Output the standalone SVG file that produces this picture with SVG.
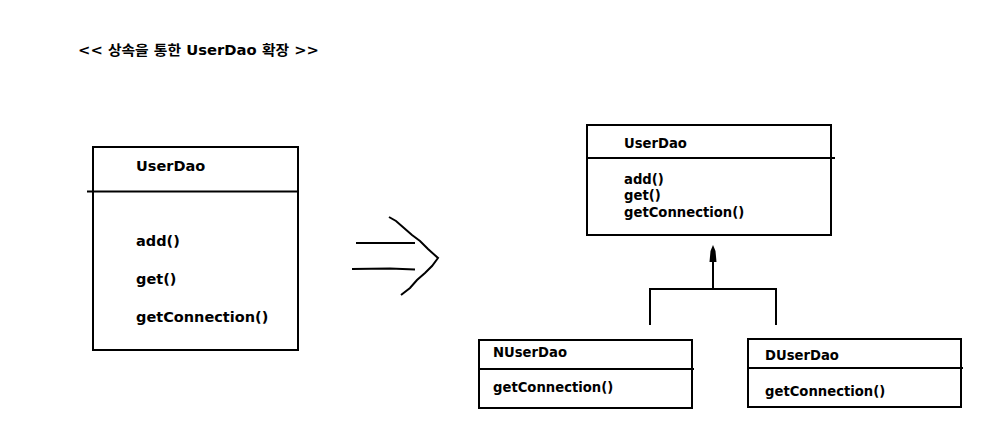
<svg xmlns="http://www.w3.org/2000/svg" width="990" height="429" viewBox="0 0 990 429">
<style>
.box{fill:#fff;stroke:#000;stroke-width:2}
.ln{fill:none;stroke:#000;stroke-width:2}
.t{font-family:"DejaVu Sans","Noto Sans CJK KR",sans-serif;font-weight:bold;fill:#000}
.big{font-size:14.5px}
.sm{font-size:13.2px}
</style>
<rect width="990" height="429" fill="#fff"/>
<text class="t" x="78" y="55" font-size="13.5" textLength="241" lengthAdjust="spacingAndGlyphs">&lt;&lt; 상속을 통한 UserDao 확장 &gt;&gt;</text>

<g id="userdao-left">
<rect class="box" x="93" y="147" width="205" height="203"/>
<line class="ln" x1="87" y1="191.5" x2="298" y2="191.5"/>
<text class="t big" x="136" y="171">UserDao</text>
<text class="t big" x="136" y="246">add()</text>
<text class="t big" x="136" y="284">get()</text>
<text class="t big" x="136" y="322">getConnection()</text>
</g>

<g id="transform-arrow">
<line class="ln" x1="356" y1="243" x2="415" y2="243"/>
<path class="ln" d="M352,269 L390,268.5 L415,269.5"/>
<path class="ln" d="M389,217 L396,221 L404,228 L412,235 L420,241 L428,249 L438,258 L432,266 L425,273 L417,280 L410,288 L401,295"/>
</g>

<g id="userdao">
<rect class="box" x="587" y="125" width="244" height="110"/>
<line class="ln" x1="587" y1="158" x2="835" y2="158"/>
<text class="t sm" x="624" y="148">UserDao</text>
<text class="t sm" x="624" y="184">add()</text>
<text class="t sm" x="624" y="200">get()</text>
<text class="t sm" x="624" y="217">getConnection()</text>
</g>

<g id="nuserdao">
<rect class="box" x="479" y="340" width="213" height="68"/>
<line class="ln" x1="479" y1="369" x2="694" y2="369"/>
<text class="t sm" x="493" y="357">NUserDao</text>
<text class="t sm" x="493" y="392">getConnection()</text>
</g>

<g id="duserdao">
<rect class="box" x="748" y="339" width="213" height="68"/>
<line class="ln" x1="748" y1="368" x2="963" y2="368"/>
<text class="t sm" x="765" y="360">DUserDao</text>
<text class="t sm" x="765" y="396">getConnection()</text>
</g>

<g id="connectors">
<path class="ln" d="M650,325 L650,289 L776,289 L776,325"/>
<line class="ln" x1="713" y1="289" x2="713" y2="261"/>
<path d="M713,245 L715.5,251 L716.5,262 L709.5,262 L710.5,251 Z" fill="#000"/>
</g>
</svg>
